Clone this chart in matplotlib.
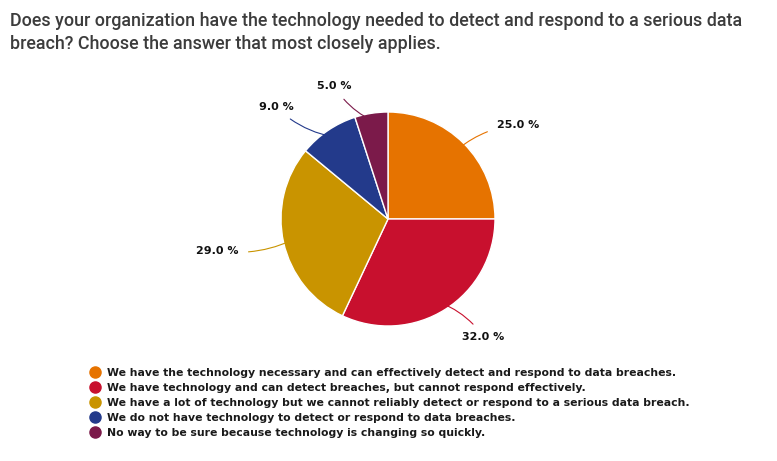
import numpy as np
import matplotlib.pyplot as plt
from matplotlib.lines import Line2D

title = ("Does your organization have the technology needed to detect and respond to a serious data\n"
         "breach? Choose the answer that most closely applies.")
answers = [
    "We have the technology necessary and can effectively detect and respond to data breaches.",
    "We have technology and can detect breaches, but cannot respond effectively.",
    "We have a lot of technology but we cannot reliably detect or respond to a serious data breach.",
    "We do not have technology to detect or respond to data breaches.",
    "No way to be sure because technology is changing so quickly.",
]
values = [25.0, 32.0, 29.0, 9.0, 5.0]
colors = ["#E67300", "#C8102E", "#C99400", "#233A8B", "#7B1A4A"]
# label placement (angle in degrees, radius) for each slice label
label_pos = [(36, 1.50), (-51, 1.42), (190.5, 1.62), (135, 1.48), (112, 1.34)]

fig = plt.figure(figsize=(7.77, 4.61), dpi=100)
fig.patch.set_facecolor("white")

fig.text(10/777, 1-12/461, title, ha="left", va="top", fontsize=12.9,
         family=["Roboto", "DejaVu Sans"], fontweight="medium", color="#3c3c3c",
         linespacing=1.33)

W, H = 777, 461
cx, cy, r = 388, 219, 107
lim = 1.8
size = 2*lim*r
ax = fig.add_axes([(cx-size/2)/W, 1-(cy+size/2)/H, size/W, size/H])
wedges, _ = ax.pie(values, colors=colors, startangle=90, counterclock=False,
                   radius=1, wedgeprops=dict(edgecolor="white", linewidth=1))
ax.set_xlim(-lim, lim)
ax.set_ylim(-lim, lim)
ax.set_aspect("equal")
ax.axis("off")

for w, v, c, (ang, rr) in zip(wedges, values, colors, label_pos):
    mid = np.deg2rad((w.theta1 + w.theta2)/2)
    start = (0.93*np.cos(mid), 0.93*np.sin(mid))
    a = np.deg2rad(ang)
    tx, ty = rr*np.cos(a), rr*np.sin(a)
    ax.annotate(f"{v:.1f} %", xy=start, xytext=(tx, ty), ha="center", va="center",
                fontsize=8, fontweight="bold", color="#111111",
                arrowprops=dict(arrowstyle="-", color=c, lw=0.8,
                                shrinkA=5, shrinkB=0,
                                connectionstyle="arc3,rad=0.15"))

handles = [Line2D([], [], marker="o", linestyle="", markersize=8,
                  markerfacecolor=c, markeredgecolor=c) for c in colors]
fig.legend(handles, answers, loc="upper left", bbox_to_anchor=(88/W, 1-368/H),
           frameon=False, handletextpad=0.55, labelspacing=0.46,
           borderaxespad=0, borderpad=0, handlelength=1.2,
           prop=dict(weight="bold", size=7.8), labelcolor="#1a1a1a")

fig.savefig("out.png", dpi=100)
